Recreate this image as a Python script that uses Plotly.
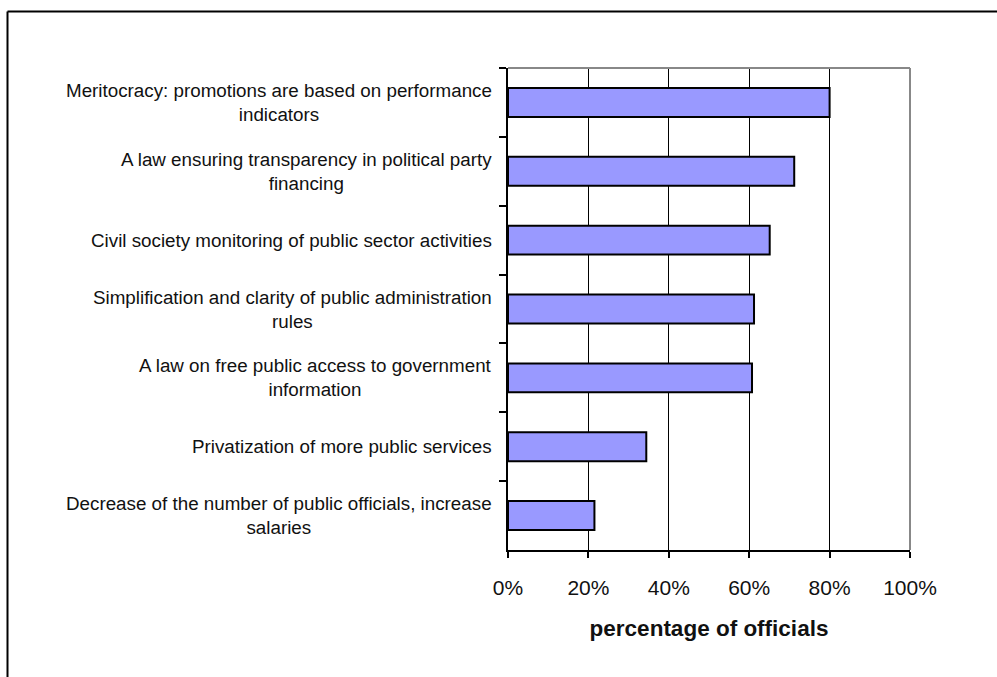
import plotly.graph_objects as go

# Survey measures and share of officials who consider each effective
categories = [
    "Meritocracy: promotions are based on performance<br>indicators",
    "A law ensuring transparency in political party<br>financing",
    "Civil society monitoring of public sector activities",
    "Simplification and clarity of public administration<br>rules",
    "A law on free public access to government<br>information",
    "Privatization of more public services",
    "Decrease of the number of public officials, increase<br>salaries",
]
values = [80.0, 71.2, 65.1, 61.2, 60.7, 34.4, 21.5]

x_ticks = [0, 20, 40, 60, 80, 100]
x_title = "percentage of officials"

W, H = 997, 677
L, R, T, B = 508, 87, 68, 127
pw, ph = W - L - R, H - T - B

FONT = "Liberation Sans, Arial, sans-serif"

fig = go.Figure(
    go.Bar(
        x=values,
        y=categories,
        orientation="h",
        width=0.42,
        marker=dict(color="#9999FF", line=dict(color="black", width=2)),
        hoverinfo="x+y",
    )
)

# Category labels: right-anchored, lines centred on each other
annotations = [
    dict(
        x=0, xref="paper", y=c, yref="y",
        text=c, showarrow=False,
        xanchor="right", yanchor="middle", align="center",
        xshift=-14,
        font=dict(family=FONT, size=18.8, color="#111111"),
    )
    for c in categories
]


def px_x(p):
    return (p - L) / pw


def px_y(p):
    return (H - B - p) / ph


shapes = [
    # plot area top and right borders in grey
    dict(type="line", xref="paper", yref="paper", x0=0, x1=1, y0=1, y1=1,
         line=dict(color="#888888", width=2)),
    dict(type="line", xref="paper", yref="paper", x0=1, x1=1, y0=0, y1=1,
         line=dict(color="#888888", width=2)),
    # outer chart frame
    dict(type="line", xref="paper", yref="paper",
         x0=px_x(7.5), x1=px_x(1010), y0=px_y(11.5), y1=px_y(11.5),
         line=dict(color="black", width=2)),
    dict(type="line", xref="paper", yref="paper",
         x0=px_x(7.5), x1=px_x(7.5), y0=px_y(11.5), y1=px_y(700),
         line=dict(color="black", width=2)),
]

fig.update_layout(
    width=W, height=H,
    margin=dict(l=L, r=R, t=T, b=B, pad=0),
    paper_bgcolor="white", plot_bgcolor="white",
    showlegend=False,
    annotations=annotations,
    shapes=shapes,
    font=dict(family=FONT, color="#111111"),
    xaxis=dict(
        range=[0, 100],
        tickvals=x_ticks,
        ticktext=[f"{v}%" for v in x_ticks],
        showgrid=True, gridcolor="black", gridwidth=1,
        showline=True, linecolor="black", linewidth=2,
        ticks="outside", ticklen=6, tickwidth=2, tickcolor="black",
        ticklabelstandoff=12,
        tickfont=dict(family=FONT, size=21, color="#111111"),
        zeroline=False,
        title=dict(text=f"<b>{x_title}</b>", standoff=22,
                   font=dict(family=FONT, size=22.5, color="#111111")),
    ),
    yaxis=dict(
        autorange="reversed",
        showticklabels=False,
        showgrid=False,
        showline=True, linecolor="black", linewidth=2,
        ticks="outside", ticklen=7, tickwidth=2, tickcolor="black",
        tickson="boundaries",
        zeroline=False,
    ),
)

fig.write_html("out.html")
